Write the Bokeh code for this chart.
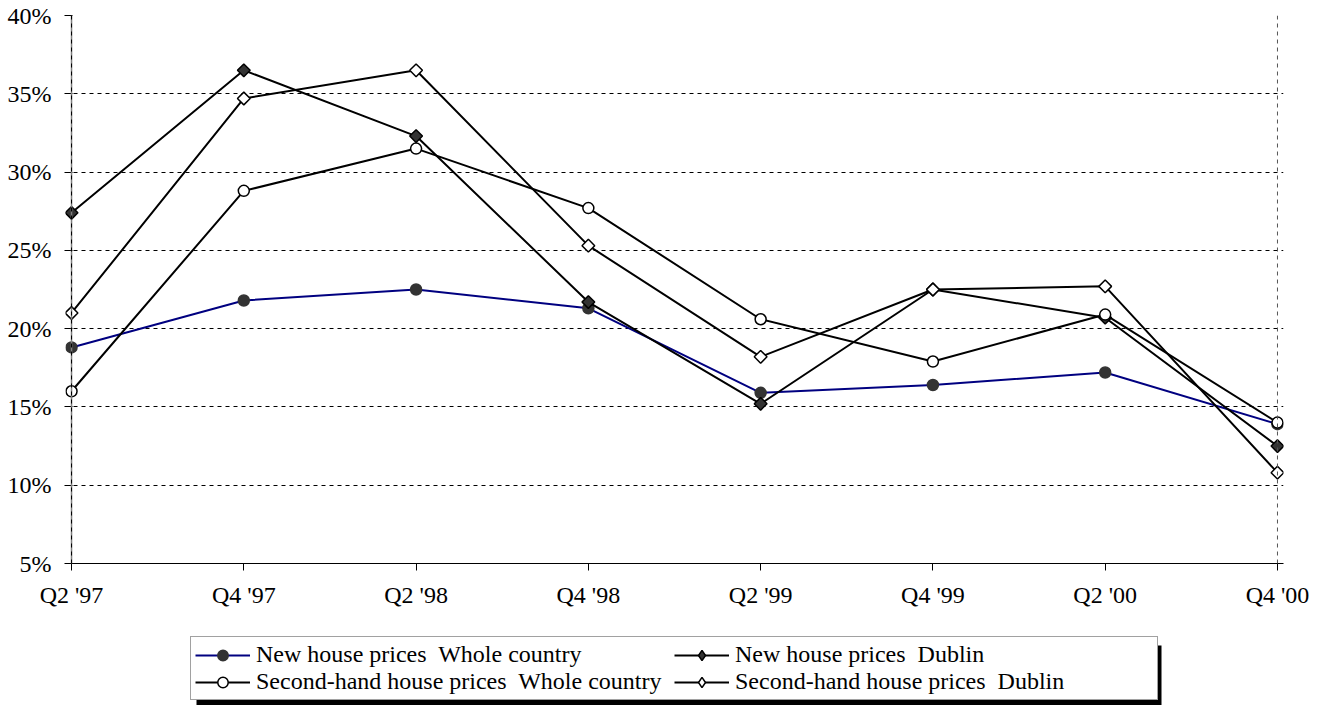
import numpy as np
from bokeh.plotting import figure
from bokeh.layouts import column
from bokeh.models import (Range1d, FixedTicker, PrintfTickFormatter, Legend, LegendItem,
                          Span, BoxAnnotation)
from bokeh.embed import file_html
from bokeh.resources import INLINE

quarters = ["Q2 '97", "Q4 '97", "Q2 '98", "Q4 '98", "Q2 '99", "Q4 '99", "Q2 '00", "Q4 '00"]
new_whole = [18.8, 21.8, 22.5, 21.3, 15.9, 16.4, 17.2, 13.9]
new_dublin = [27.4, 36.5, 32.3, 21.7, 15.2, 22.5, 20.7, 12.5]
second_whole = [16.0, 28.8, 31.5, 27.7, 20.6, 17.9, 20.9, 14.0]
second_dublin = [21.0, 34.7, 36.5, 25.3, 18.2, 22.5, 22.7, 10.8]
y_ticks = [5, 10, 15, 20, 25, 30, 35, 40]
series_labels = ["New house prices  Whole country", "New house prices  Dublin",
                 "Second-hand house prices  Whole country", "Second-hand house prices  Dublin"]

x = list(range(len(quarters)))
FONT = "Liberation Serif"
FS = "24px"
W = 1313

p = figure(frame_width=1218, frame_height=548, min_border_left=65, min_border_right=30,
           min_border_top=15, min_border_bottom=45,
           x_range=Range1d(-0.035, len(quarters) - 1 + 0.035), y_range=Range1d(5, 40),
           output_backend="svg", toolbar_location=None)
p.outline_line_color = None
p.background_fill_color = "white"
p.border_fill_color = "white"

# axes
p.xaxis.ticker = FixedTicker(ticks=x)
p.xaxis.major_label_overrides = {i: q for i, q in enumerate(quarters)}
p.xaxis.minor_tick_line_color = None
p.xaxis.major_tick_out = 7
p.xaxis.major_tick_in = 0
p.xaxis.major_label_standoff = 11
p.xaxis.axis_line_color = "black"
p.xaxis.major_tick_line_color = "black"

p.yaxis.ticker = FixedTicker(ticks=y_ticks)
p.yaxis.formatter = PrintfTickFormatter(format="%d%%")
p.yaxis.minor_tick_line_color = None
p.yaxis.axis_line_color = None
p.yaxis.major_tick_in = 7
p.yaxis.major_tick_out = 1
p.yaxis.major_label_standoff = 13
p.yaxis.major_tick_line_color = "black"

for ax in (p.xaxis[0], p.yaxis[0]):
    ax.major_label_text_font = FONT
    ax.major_label_text_font_size = FS
    ax.major_label_text_color = "black"

# grids
p.xgrid.visible = False
p.ygrid.ticker = FixedTicker(ticks=[t for t in y_ticks if t > 5])
p.ygrid.grid_line_color = "black"
p.ygrid.grid_line_dash = "4 4"
p.ygrid.grid_line_width = 1

p.add_layout(Span(location=0, dimension="height", line_color="#808080", line_width=1.5))
p.add_layout(Span(location=0, dimension="height", line_color="black", line_width=1, line_dash="4 4"))
p.add_layout(Span(location=len(quarters) - 1, dimension="height", line_color="#555555",
                  line_width=1, line_dash="4 4"))

# series styles
styles = [
    dict(line_color="#000080", marker="circle", size=11, fill="#333333", mline="#333333",
         angle=0, lmarker="circle", lsize=9),
    dict(line_color="black", marker="square", size=9, fill="#333333", mline="black",
         angle=np.pi / 4, lmarker="diamond", lsize=13),
    dict(line_color="black", marker="circle", size=11, fill="white", mline="black",
         angle=0, lmarker="circle", lsize=9),
    dict(line_color="black", marker="square", size=9, fill="white", mline="black",
         angle=np.pi / 4, lmarker="diamond", lsize=13),
]
data = [new_whole, new_dublin, second_whole, second_dublin]

for ys, st in zip(data, styles):
    p.line(x, ys, line_color=st["line_color"], line_width=2)
    p.scatter(x, ys, marker=st["marker"], size=st["size"], angle=st["angle"],
              fill_color=st["fill"], line_color=st["mline"], line_width=1.5)

# legend strip under the chart (its y range lies below all values, so series stay out of view)
p2 = figure(width=W, height=97, min_border=0, x_range=Range1d(0, 1), y_range=Range1d(0, 1),
            x_axis_type=None, y_axis_type=None, output_backend="svg", toolbar_location=None)
p2.outline_line_color = None
p2.xgrid.visible = False
p2.ygrid.visible = False
p2.background_fill_color = "white"
p2.border_fill_color = "white"

proxies = []
for ys, lab, st in zip(data, series_labels, styles):
    lr = p2.line(x, ys, line_color=st["line_color"], line_width=2)
    sr = p2.scatter(x, ys, marker=st["lmarker"], size=st["lsize"],
                    fill_color=st["fill"], line_color=st["mline"], line_width=1.5)
    proxies.append(LegendItem(label=lab, renderers=[lr, sr]))

# column-major filling: column 1 = whole country, column 2 = Dublin
items = [proxies[0], proxies[2], proxies[1], proxies[3]]

shadow = BoxAnnotation(left=196, right=1161, top=35, bottom=95,
                       left_units="canvas", right_units="canvas",
                       top_units="canvas", bottom_units="canvas",
                       fill_color="black", fill_alpha=1.0, line_color=None)
p2.add_layout(shadow)

legend = Legend(items=items, ncols=2, location=(125, 7))
legend.label_text_font = FONT
legend.label_text_font_size = FS
legend.label_text_color = "black"
legend.glyph_width = 55
legend.glyph_height = 26
legend.label_height = 26
legend.label_width = 418
legend.label_standoff = 6
legend.spacing = 0
legend.padding = 4
legend.margin = 0
legend.border_line_color = "#444444"
legend.border_line_width = 1
legend.background_fill_color = "white"
legend.background_fill_alpha = 1.0
p2.add_layout(legend)

layout = column(p, p2, spacing=0)
open("out.html", "w").write(file_html(layout, INLINE))
